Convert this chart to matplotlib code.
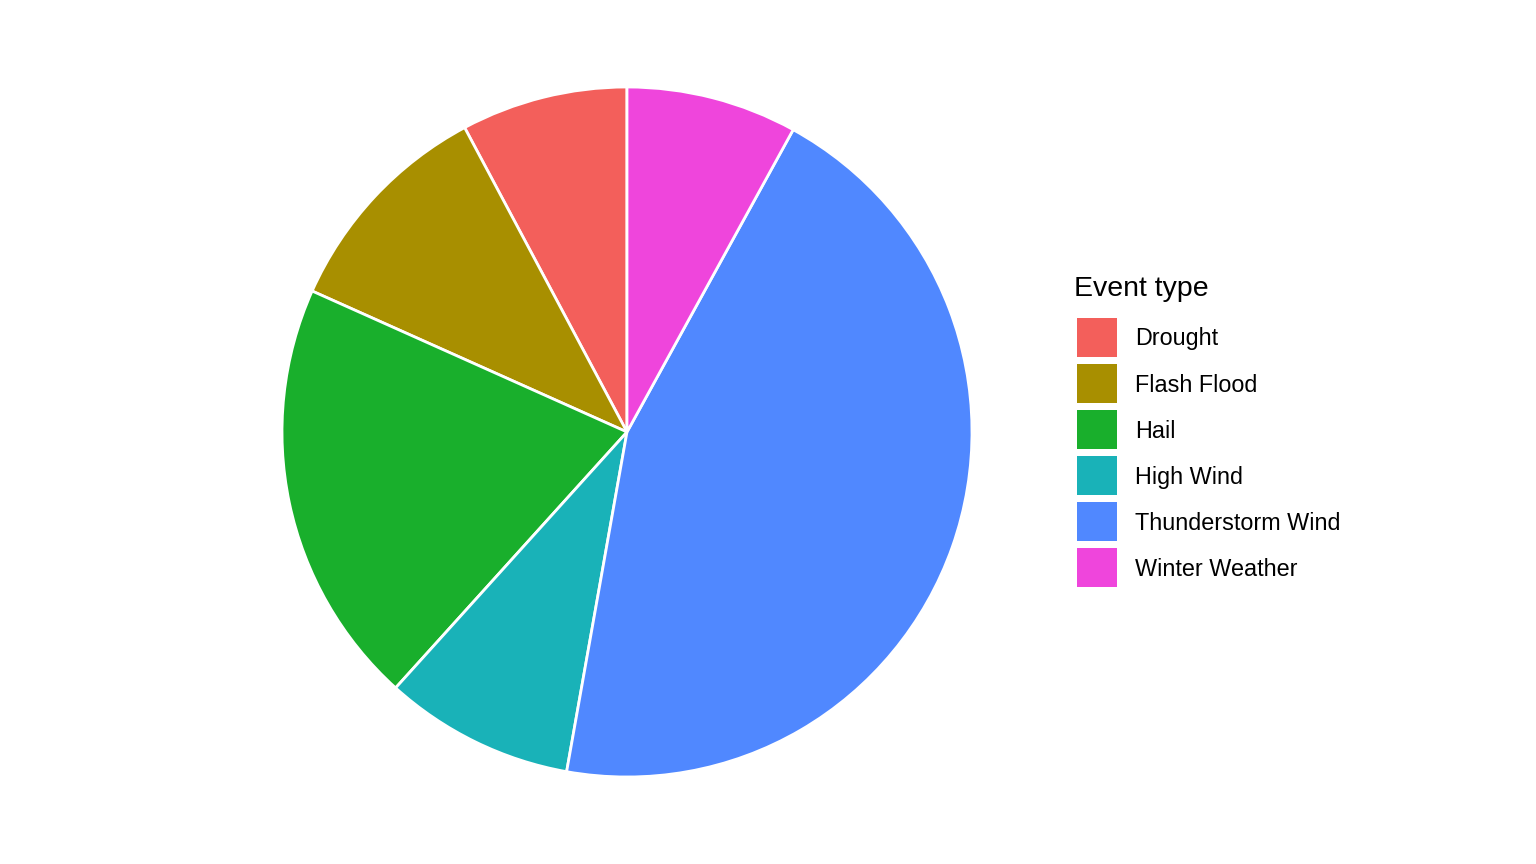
import matplotlib
matplotlib.use("Agg")
import matplotlib.pyplot as plt
from matplotlib.patches import Rectangle

plt.rcParams['font.family'] = ['Liberation Sans', 'DejaVu Sans']

# data (percent share)
event_types = ["Drought", "Flash Flood", "Hail", "High Wind",
               "Thunderstorm Wind", "Winter Weather"]
shares = [7.8, 10.5, 20.0, 8.9, 44.8, 8.0]
colors = ["#F35F5B", "#A88F00", "#19AF2C", "#19B2B8", "#5088FF", "#EF45DC"]
legend_title = "Event type"

W, H = 1536, 864
fig = plt.figure(figsize=(W / 100, H / 100), dpi=100)

# pie centred at (627, 432) px, radius 345 px
cx, cy, r = 627, 432, 345
ax = fig.add_axes([(cx - r) / W, (H - cy - r) / H, 2 * r / W, 2 * r / H])
ax.pie(shares, colors=colors, startangle=90, counterclock=True,
       wedgeprops=dict(edgecolor="white", linewidth=2))
ax.set_xlim(-1, 1)
ax.set_ylim(-1, 1)
ax.set_aspect("equal")
ax.axis("off")

# legend, drawn by hand in pixel coords
def px(x, y):
    return x / W, 1 - y / H

fig.text(*px(1074, 289), legend_title, fontsize=20.5, va="center", ha="left")
key_x, key_y0, key_w, key_h, pitch = 1077, 318, 40, 39, 46
for i, (name, col) in enumerate(zip(event_types, colors)):
    top = key_y0 + i * pitch
    x0, y0 = px(key_x, top + key_h)
    fig.add_artist(Rectangle((x0, y0), key_w / W, key_h / H, facecolor=col,
                             edgecolor="none", transform=fig.transFigure))
    fig.text(*px(1135, top + key_h / 2 + 1.5), name, fontsize=16.8,
             va="center", ha="left")

fig.savefig("out.png", dpi=100, facecolor="white")
